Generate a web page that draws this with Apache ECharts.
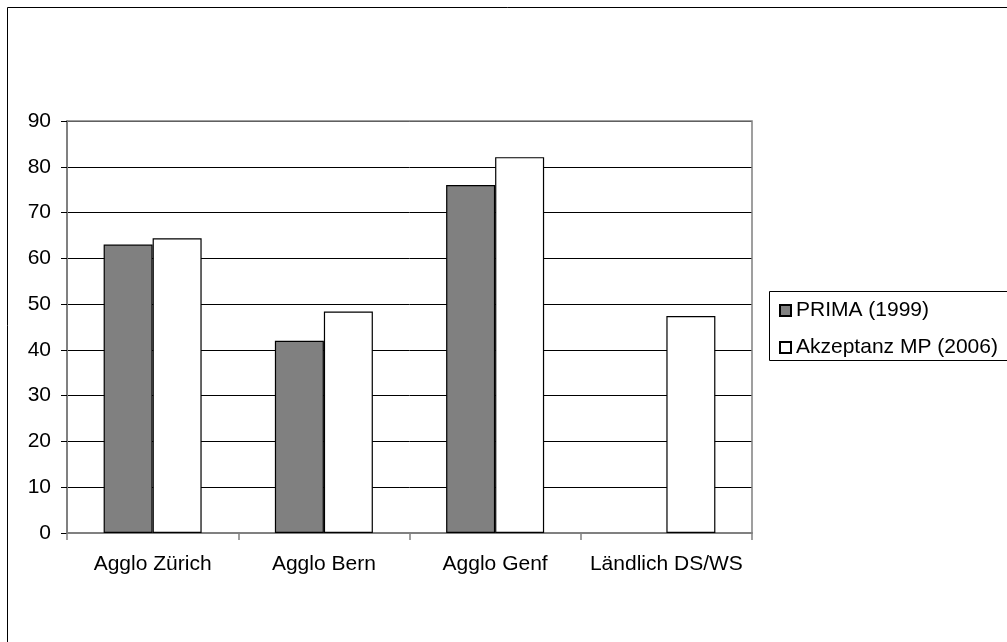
<!DOCTYPE html>
<html>
<head>
<meta charset="utf-8">
<script src="https://cdn.jsdelivr.net/npm/echarts@6/dist/echarts.min.js"></script>
<style>
  html, body { margin: 0; padding: 0; background: #fff; }
  #chart { width: 1007px; height: 642px; }
</style>
</head>
<body>
<div id="chart"></div>
<script>
// Regions compared in the survey
const categories = ['Agglo Zürich', 'Agglo Bern', 'Agglo Genf', 'Ländlich DS/WS'];
// Share in percent per study (no PRIMA value for the rural area)
const prima1999 = [63, 42, 76, null];
const akzeptanz2006 = [64.4, 48.4, 82.1, 47.4];
const seriesNames = ['PRIMA (1999)', 'Akzeptanz MP (2006)'];
// Value axis range
const yMin = 0, yMax = 90, yStep = 10;

const FONT = "'Liberation Sans', Arial, sans-serif";
const chart = echarts.init(document.getElementById('chart'), null, { renderer: 'canvas' });

const grid = { left: 67, right: 255, top: 121, bottom: 109 };

chart.setOption({
  backgroundColor: '#ffffff',
  animation: false,
  textStyle: { fontFamily: FONT },
  graphic: [
    // outer frame of the chart area
    { type: 'rect', z: 0, shape: { x: 7.5, y: 7.5, width: 1100, height: 700 },
      style: { fill: 'none', stroke: '#000', lineWidth: 1 } },
    // plot area frame (top and right)
    { type: 'polyline', z: 5, shape: { points: [[67, 121], [752, 121], [752, 533]] },
      style: { fill: 'none', stroke: '#808080', lineWidth: 1.5 } },
    // legend frame
    { type: 'rect', z: 1, shape: { x: 769.5, y: 291.5, width: 300, height: 69 },
      style: { fill: '#fff', stroke: '#000', lineWidth: 1 } }
  ],
  legend: {
    data: seriesNames,
    orient: 'vertical',
    left: 774,
    top: 295,
    itemGap: 16,
    itemWidth: 11,
    itemHeight: 11,
    icon: 'rect',
    z: 10,
    textStyle: { fontFamily: FONT, fontSize: 21, color: '#000' }
  },
  grid: grid,
  xAxis: {
    type: 'category',
    data: categories,
    axisLine: { lineStyle: { color: '#808080', width: 2 } },
    axisTick: { show: true, interval: 0, length: 7, lineStyle: { color: '#808080', width: 1.5 } },
    axisLabel: { interval: 0, fontFamily: FONT, fontSize: 21, color: '#000', margin: 21 }
  },
  yAxis: {
    type: 'value',
    min: yMin,
    max: yMax,
    interval: yStep,
    axisLine: { show: true, lineStyle: { color: '#808080', width: 2 } },
    axisTick: { show: true, length: 6, lineStyle: { color: '#000', width: 1 } },
    splitLine: { show: true, lineStyle: { color: '#000', width: 1 } },
    axisLabel: { fontFamily: FONT, fontSize: 21, color: '#000', margin: 16 }
  },
  series: [
    {
      name: seriesNames[0],
      type: 'bar',
      data: prima1999,
      barWidth: 49,
      barGap: '0%',
      itemStyle: { color: '#808080', borderColor: '#000', borderWidth: 1.2 }
    },
    {
      name: seriesNames[1],
      type: 'bar',
      data: akzeptanz2006,
      barWidth: 49,
      barGap: '0%',
      itemStyle: { color: '#ffffff', borderColor: '#000', borderWidth: 1.2 }
    }
  ]
});
</script>
</body>
</html>
